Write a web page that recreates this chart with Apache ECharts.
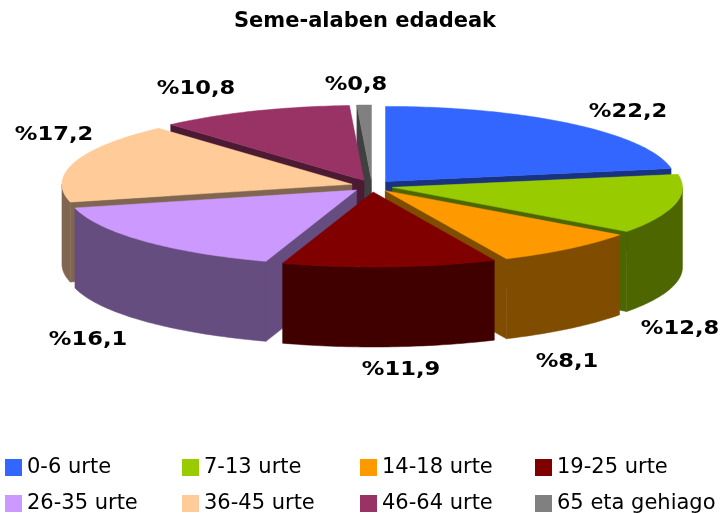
<!DOCTYPE html>
<html>
<head>
<meta charset="utf-8">
<title>Seme-alaben edadeak</title>
<style>
    html, body { margin: 0; padding: 0; background: #fff; }
    #main { width: 721px; height: 513px; }
</style>
<script src="https://cdn.jsdelivr.net/npm/echarts@6/dist/echarts.min.js"></script>
</head>
<body>
<div id="main"></div>
<script>
// datuak
const titleText = 'Seme-alaben edadeak';
const categories = ['0-6 urte', '7-13 urte', '14-18 urte', '19-25 urte', '26-35 urte', '36-45 urte', '46-64 urte', '65 eta gehiago'];
const shares = [22.2, 12.8, 8.1, 11.9, 16.1, 17.2, 10.8, 0.8];

// koloreak
const topColors = ['#3366ff', '#99cc00', '#ff9900', '#800000', '#cc99ff', '#ffcc99', '#993366', '#808080'];
const wallColors = ['#1a3380', '#4d6600', '#804d00', '#400000', '#664d80', '#806650', '#4d1a33', '#404040'];

// etiketen erdiguneak (px)
const labelCentersX = [628, 680, 567, 401, 88, 54, 196, 356];
const labelCentersY = [112, 329, 362, 370, 340, 135, 89, 85];

// tarta itxura: elipsea, sakonera eta leherketa
const pie = { cx: 372, cy: 186, rx: 290, ry: 75, depth: 80, explodeX: 21, explodeY: 6 };

const total = shares.reduce((a, b) => a + b, 0);
const RAD = Math.PI / 180;

// xerra bakoitzaren hasiera eta amaiera angeluak
let running = -90;
const slices = shares.map((value) => {
    let start = running;
    running += value / total * 360;
    let mid = (start + running) / 2;
    return {
        start: start,
        end: running,
        mid: mid,
        apexX: pie.cx + pie.explodeX * Math.cos(mid * RAD),
        apexY: pie.cy + pie.explodeY * Math.sin(mid * RAD)
    };
});

// atzekoak lehenengo margotu, aurrekoak azkenik
const paintOrder = slices.map((s, i) => i).sort((a, b) => Math.sin(slices[a].mid * RAD) - Math.sin(slices[b].mid * RAD));

function rimPoint(slice, angle, drop) {
    return [
        slice.apexX + pie.rx * Math.cos(angle * RAD),
        slice.apexY + pie.ry * Math.sin(angle * RAD) + drop
    ];
}

function arcPoints(slice, from, to, drop) {
    let points = [];
    let steps = Math.max(2, Math.ceil(Math.abs(to - from)));
    for (let i = 0; i <= steps; i++) {
        points.push(rimPoint(slice, from + (to - from) * i / steps, drop));
    }
    return points;
}

function radialWall(slice, angle) {
    let rim = rimPoint(slice, angle, 0);
    return [
        [slice.apexX, slice.apexY],
        rim,
        [rim[0], rim[1] + pie.depth],
        [slice.apexX, slice.apexY + pie.depth]
    ];
}

function polygon(points, fill) {
    return { type: 'polygon', shape: { points: points }, style: { fill: fill, stroke: fill, lineWidth: 0.5 } };
}

function renderSlice(index) {
    return function () {
        let slice = slices[index];
        let children = [];
        // aurrera begira dauden alboko hormak bakarrik
        if (Math.cos(slice.start * RAD) < -0.001) {
            children.push(polygon(radialWall(slice, slice.start), wallColors[index]));
        }
        if (Math.cos(slice.end * RAD) > 0.001) {
            children.push(polygon(radialWall(slice, slice.end), wallColors[index]));
        }
        // kanpoko horma, elipsearen aurreko erdian
        let wallFrom = Math.max(slice.start, 0);
        let wallTo = Math.min(slice.end, 180);
        if (wallTo > wallFrom) {
            let upper = arcPoints(slice, wallFrom, wallTo, 0);
            let lower = arcPoints(slice, wallTo, wallFrom, pie.depth);
            children.push(polygon(upper.concat(lower), wallColors[index]));
        }
        // goiko aurpegia
        let face = [[slice.apexX, slice.apexY]].concat(arcPoints(slice, slice.start, slice.end, 0));
        children.push(polygon(face, topColors[index]));
        // etiketa
        children.push({
            type: 'text',
            x: labelCentersX[index],
            y: labelCentersY[index],
            scaleX: 1.13,
            z2: 100,
            style: {
                text: '%' + shares[index].toFixed(1).replace('.', ','),
                x: 0,
                y: 0,
                align: 'center',
                verticalAlign: 'middle',
                fill: '#000',
                font: 'bold 20px "DejaVu Sans"'
            }
        });
        return { type: 'group', children: children };
    };
}

// legenda lau zutabetan
const legendColumns = [5, 182, 360, 535];

const option = {
    animation: false,
    backgroundColor: '#fff',
    title: {
        text: titleText,
        left: 365,
        top: 11,
        textAlign: 'center',
        padding: 0,
        textStyle: { fontFamily: 'DejaVu Sans', fontWeight: 'bold', fontSize: 21, color: '#000' }
    },
    legend: legendColumns.map((x, col) => ({
        orient: 'vertical',
        left: x,
        top: 457,
        height: 100,
        padding: 0,
        itemWidth: 17,
        itemHeight: 17,
        itemGap: 15,
        icon: 'rect',
        selectedMode: false,
        data: [categories[col], categories[col + 4]],
        textStyle: { fontFamily: 'DejaVu Sans', fontSize: 21, lineHeight: 17, color: '#000', padding: [0, 0, 4, 0] }
    })),
    series: categories.map((name, i) => ({
        type: 'custom',
        name: name,
        coordinateSystem: 'none',
        silent: true,
        z: 2 + paintOrder.indexOf(i),
        itemStyle: { color: topColors[i] },
        renderItem: renderSlice(i),
        data: [shares[i]]
    }))
};

let myChart = echarts.init(document.getElementById('main'), null, { renderer: 'canvas' });
myChart.setOption(option);
</script>
</body>
</html>
